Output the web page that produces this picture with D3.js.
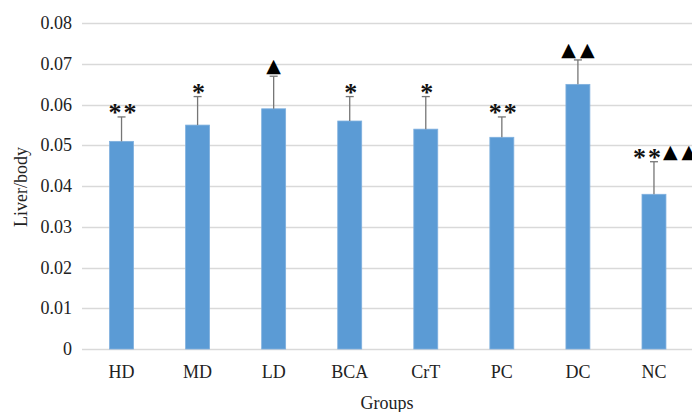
<!DOCTYPE html>
<html>
<head>
<meta charset="utf-8">
<script src="https://cdn.jsdelivr.net/npm/d3@7"></script>
<style>
  body { margin: 0; background: #fff; }
  text { font-family: "Liberation Serif", "Times New Roman", serif; fill: #222; }
</style>
</head>
<body>
<svg id="chart" width="692" height="412"></svg>
<script>
// chart values
const groups = ['HD', 'MD', 'LD', 'BCA', 'CrT', 'PC', 'DC', 'NC'];
const ratio = [0.051, 0.055, 0.059, 0.056, 0.054, 0.052, 0.065, 0.038];
const errUp = [0.006, 0.007, 0.008, 0.006, 0.008, 0.005, 0.006, 0.008];
const stars = ['**', '*', '', '*', '*', '**', '', '**'];
const triangles = ['', '', '▲', '', '', '', '▲▲', '▲▲'];
const yTicks = [0, 0.01, 0.02, 0.03, 0.04, 0.05, 0.06, 0.07, 0.08];

const svg = d3.select('#chart');
const plotLeft = 83.5, plotRight = 692, plotTop = 23.3, plotBottom = 349;

const x = d3.scaleBand()
  .domain(groups)
  .range([plotLeft, plotRight])
  .paddingInner(0.685)
  .paddingOuter(0.3425);

const y = d3.scaleLinear().domain([0, 0.08]).range([plotBottom, plotTop]);

// gridlines
svg.append('g')
  .selectAll('line')
  .data(yTicks)
  .join('line')
  .attr('x1', 82)
  .attr('x2', 692)
  .attr('y1', d => Math.round(y(d)) + 0.5)
  .attr('y2', d => Math.round(y(d)) + 0.5)
  .style('stroke', '#d9d9d9')
  .style('stroke-width', 1.3);

// y tick labels
svg.append('g')
  .selectAll('text')
  .data(yTicks)
  .join('text')
  .attr('x', 72)
  .attr('y', d => y(d) + 6)
  .attr('text-anchor', 'end')
  .style('font-size', '18px')
  .text(d => d === 0 ? '0' : d.toFixed(2));

// bars
svg.append('g')
  .selectAll('rect')
  .data(groups)
  .join('rect')
  .attr('x', d => x(d))
  .attr('y', (d, i) => y(ratio[i]))
  .attr('width', x.bandwidth())
  .attr('height', (d, i) => plotBottom - y(ratio[i]))
  .style('fill', '#5b9bd5')
  .style('stroke', '#7fb0de')
  .style('stroke-width', 0.8);

// error bars (upper only)
const eb = svg.append('g')
  .selectAll('g')
  .data(groups)
  .join('g')
  .attr('transform', d => 'translate(' + (x(d) + x.bandwidth() / 2) + ',0)');

eb.append('line')
  .attr('x1', 0).attr('x2', 0)
  .attr('y1', (d, i) => y(ratio[i]))
  .attr('y2', (d, i) => y(ratio[i] + errUp[i]))
  .style('stroke', '#767676')
  .style('stroke-width', 1.3);

eb.append('line')
  .attr('x1', -4).attr('x2', 4)
  .attr('y1', (d, i) => y(ratio[i] + errUp[i]))
  .attr('y2', (d, i) => y(ratio[i] + errUp[i]))
  .style('stroke', '#767676')
  .style('stroke-width', 1.3);

// significance marks
const marks = eb.append('text')
  .attr('x', 2)
  .attr('y', (d, i) => y(ratio[i] + errUp[i]) - 4)
  .attr('text-anchor', (d, i) => stars[i] && triangles[i] ? 'start' : 'middle')
  .attr('dx', (d, i) => stars[i] && triangles[i] ? -23 : 0);

marks.append('tspan')
  .style('font-size', '26px')
  .style('font-weight', 'bold')
  .attr('dy', (d, i) => stars[i] ? 8 : 0)
  .style('letter-spacing', '2px')
  .style('fill', '#111')
  .text((d, i) => stars[i]);

marks.append('tspan')
  .style('font-family', '"DejaVu Sans", sans-serif')
  .style('font-size', '19px')
  .style('letter-spacing', '4px')
  .style('fill', '#000')
  .attr('dy', (d, i) => stars[i] && triangles[i] ? -8 : 0)
  .text((d, i) => triangles[i]);

// category labels
svg.append('g')
  .selectAll('text')
  .data(groups)
  .join('text')
  .attr('x', d => x(d) + x.bandwidth() / 2)
  .attr('y', 378)
  .attr('text-anchor', 'middle')
  .style('font-size', '18px')
  .text(d => d);

// axis titles
svg.append('text')
  .attr('x', 387)
  .attr('y', 409)
  .attr('text-anchor', 'middle')
  .style('font-size', '18px')
  .text('Groups');

svg.append('text')
  .attr('transform', 'translate(27,187) rotate(-90)')
  .attr('text-anchor', 'middle')
  .style('font-size', '18px')
  .text('Liver/body');
</script>
</body>
</html>
